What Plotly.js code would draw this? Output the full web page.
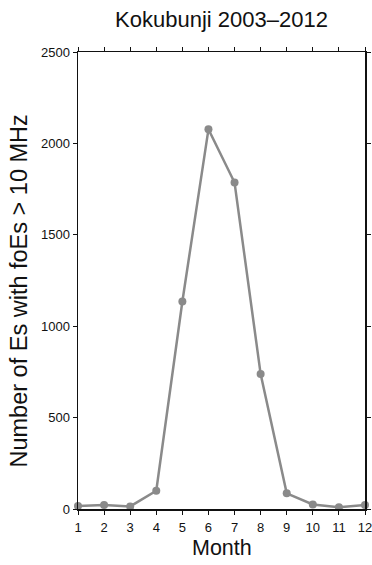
<!DOCTYPE html>
<html><head><meta charset="utf-8">
<script src="https://cdn.plot.ly/plotly-3.0.1.min.js"></script>
<style>html,body{margin:0;padding:0;background:#fff}#chart{width:372px;height:565px}</style>
</head><body><div id="chart"></div>
<script>
const months = [1,2,3,4,5,6,7,8,9,10,11,12];
const counts = [16,22,14,100,1135,2077,1786,738,86,25,10,22];
const xTicks = [1,2,3,4,5,6,7,8,9,10,11,12];
const yTicks = [0,500,1000,1500,2000,2500];
const font = 'Liberation Sans, Arial, Helvetica, sans-serif';

const trace = {
  x: months, y: counts, type: 'scatter', mode: 'lines+markers',
  line: {color: '#8a8a8a', width: 2.5},
  marker: {color: '#8a8a8a', size: 8},
  cliponaxis: false, hoverinfo: 'none'
};
const axBase = {
  showline: true, linecolor: '#111', linewidth: 1.5, mirror: 'ticks',
  ticks: 'outside', ticklen: 4, tickcolor: '#111', tickwidth: 1,
  showgrid: false, zeroline: false, ticklabeloverflow: 'allow',
  tickfont: {family: font, size: 13, color: '#111'}
};
const W = 372, H = 565, L = 78, R = 7, T = 52, B = 56;
const pw = W - L - R, ph = H - T - B;
const layout = {
  width: W, height: H,
  margin: {l: L, r: R, t: T, b: B},
  paper_bgcolor: '#fff', plot_bgcolor: '#fff',
  showlegend: false,
  title: {text: 'Kokubunji 2003\u20132012', font: {family: font, size: 22, color: '#111'},
          x: 0.5, xanchor: 'center', y: 1 - 19 / H, yanchor: 'middle', xref: 'paper', yref: 'container'},
  xaxis: Object.assign({}, axBase, {
    range: [1, 12], tickvals: xTicks, ticktext: xTicks.map(String), ticklabelstandoff: 2
  }),
  yaxis: Object.assign({}, axBase, {
    range: [0, 2500], tickvals: yTicks, ticktext: yTicks.map(String)
  }),
  annotations: [
    {text: 'Month', xref: 'paper', yref: 'paper', x: (222 - L) / pw, y: -(548 - (H - B)) / ph,
     xanchor: 'center', yanchor: 'middle', showarrow: false,
     font: {family: font, size: 21.5, color: '#111'}},
    {text: 'Number of Es with foEs > 10 MHz', xref: 'paper', yref: 'paper',
     x: (18 - L) / pw, y: ((H - B) - 291.5) / ph, textangle: -90,
     xanchor: 'center', yanchor: 'middle', showarrow: false,
     font: {family: font, size: 23.5, color: '#111'}}
  ]
};
Plotly.newPlot('chart', [trace], layout, {staticPlot: true, displayModeBar: false});
</script></body></html>
